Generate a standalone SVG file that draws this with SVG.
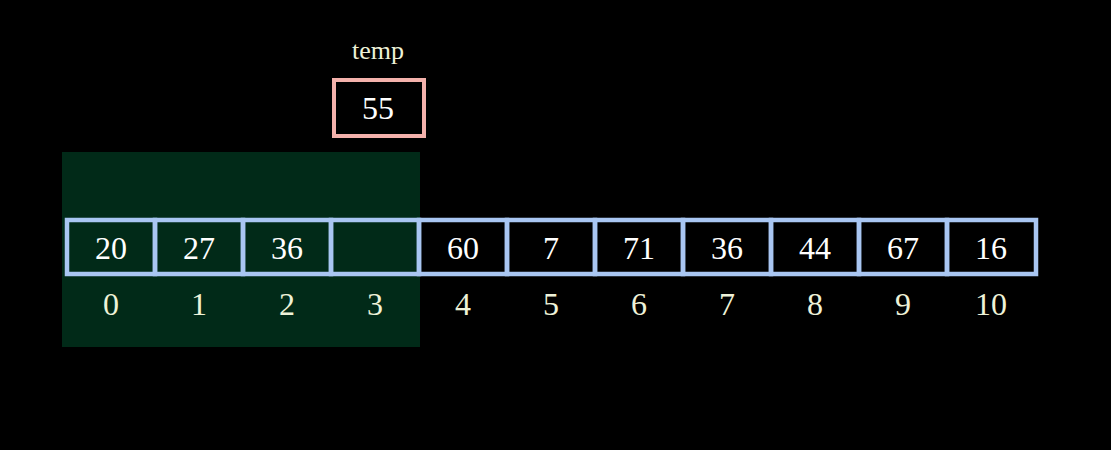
<svg xmlns="http://www.w3.org/2000/svg" width="1111" height="450" viewBox="0 0 1111 450">
<style>
.cell{fill:none;stroke:#a9c6f2;stroke-width:4.5}
text{font-family:'Liberation Serif','Times New Roman','DejaVu Serif',serif;text-anchor:middle}
.val{font-size:32px;fill:#ffffff}
.idx{font-size:32px;fill:#eef2d8}
</style>
<rect width="1111" height="450" fill="#000000"/>
<rect id="sorted" x="62" y="152" width="358" height="195" fill="#012a18"/>
<g id="temp">
<text x="378" y="59" font-size="26" fill="#eef2d8">temp</text>
<rect x="334" y="80" width="90" height="56" fill="none" stroke="#f3b1ab" stroke-width="4"/>
<text class="val" x="378" y="119">55</text>
</g>
<g id="array">
<g id="c0"><rect class="cell" x="67" y="220" width="88" height="54"/><text class="val" x="111" y="259">20</text><text class="idx" x="111" y="315">0</text></g>
<g id="c1"><rect class="cell" x="155" y="220" width="88" height="54"/><text class="val" x="199" y="259">27</text><text class="idx" x="199" y="315">1</text></g>
<g id="c2"><rect class="cell" x="243" y="220" width="88" height="54"/><text class="val" x="287" y="259">36</text><text class="idx" x="287" y="315">2</text></g>
<g id="c3"><rect class="cell" x="331" y="220" width="88" height="54"/><text class="idx" x="375" y="315">3</text></g>
<g id="c4"><rect class="cell" x="419" y="220" width="88" height="54"/><text class="val" x="463" y="259">60</text><text class="idx" x="463" y="315">4</text></g>
<g id="c5"><rect class="cell" x="507" y="220" width="88" height="54"/><text class="val" x="551" y="259">7</text><text class="idx" x="551" y="315">5</text></g>
<g id="c6"><rect class="cell" x="595" y="220" width="88" height="54"/><text class="val" x="639" y="259">71</text><text class="idx" x="639" y="315">6</text></g>
<g id="c7"><rect class="cell" x="683" y="220" width="88" height="54"/><text class="val" x="727" y="259">36</text><text class="idx" x="727" y="315">7</text></g>
<g id="c8"><rect class="cell" x="771" y="220" width="88" height="54"/><text class="val" x="815" y="259">44</text><text class="idx" x="815" y="315">8</text></g>
<g id="c9"><rect class="cell" x="859" y="220" width="88" height="54"/><text class="val" x="903" y="259">67</text><text class="idx" x="903" y="315">9</text></g>
<g id="c10"><rect class="cell" x="947" y="220" width="89" height="54"/><text class="val" x="991" y="259">16</text><text class="idx" x="991" y="315">10</text></g>
</g>
<g id="connectors"/>
</svg>
